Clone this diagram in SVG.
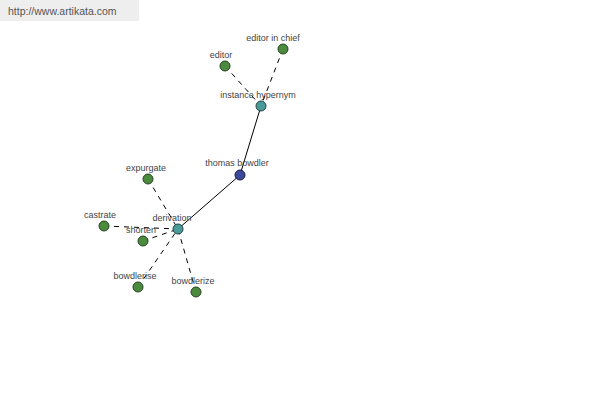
<svg xmlns="http://www.w3.org/2000/svg" width="600" height="400" viewBox="0 0 600 400">
<style>
.lbl{font-family:"Liberation Sans",Arial,sans-serif;font-size:9px;fill:#444;text-anchor:middle}
.g{fill:#4c8a3e;stroke:#224422;stroke-width:1}
.t{fill:#4a9a9a;stroke:#224444;stroke-width:1}
.b{fill:#3c4a9c;stroke:#1a1a44;stroke-width:1}
.solid{stroke:#000;stroke-width:1;fill:none}
.dash{stroke:#000;stroke-width:1;fill:none;stroke-dasharray:5,5}
</style>
<rect x="0" y="0" width="139" height="21" fill="#eeeeee"/>
<text x="8" y="15" font-family="'Liberation Sans',Arial,sans-serif" font-size="10.5" fill="#555">http://www.artikata.com</text>
<g id="connectors">
<line class="solid" x1="240" y1="175" x2="261" y2="106"/>
<line class="solid" x1="240" y1="175" x2="178" y2="229"/>
<line class="dash" x1="283" y1="49" x2="261" y2="106"/>
<line class="dash" x1="225" y1="66" x2="261" y2="106"/>
<line class="dash" x1="148" y1="179" x2="178" y2="229"/>
<line class="dash" x1="104" y1="226" x2="178" y2="229"/>
<line class="dash" x1="143" y1="241" x2="178" y2="229"/>
<line class="dash" x1="138" y1="287" x2="178" y2="229"/>
<line class="dash" x1="196" y1="292" x2="178" y2="229"/>
</g>
<g id="editor-in-chief"><circle class="g" cx="283" cy="49" r="5"/><text class="lbl" x="273" y="41">editor in chief</text></g>
<g id="editor"><circle class="g" cx="225" cy="66" r="5"/><text class="lbl" x="221" y="58">editor</text></g>
<g id="instance-hypernym"><circle class="t" cx="261" cy="106" r="5"/><text class="lbl" x="258" y="98">instance hypernym</text></g>
<g id="thomas-bowdler"><circle class="b" cx="240" cy="175" r="5"/><text class="lbl" x="237" y="166">thomas bowdler</text></g>
<g id="derivation"><circle class="t" cx="178" cy="229" r="5"/><text class="lbl" x="172" y="221">derivation</text></g>
<g id="expurgate"><circle class="g" cx="148" cy="179" r="5"/><text class="lbl" x="146" y="171">expurgate</text></g>
<g id="castrate"><circle class="g" cx="104" cy="226" r="5"/><text class="lbl" x="100" y="218">castrate</text></g>
<g id="shorten"><circle class="g" cx="143" cy="241" r="5"/><text class="lbl" x="141" y="233">shorten</text></g>
<g id="bowdlerise"><circle class="g" cx="138" cy="287" r="5"/><text class="lbl" x="135" y="279">bowdlerise</text></g>
<g id="bowdlerize"><circle class="g" cx="196" cy="292" r="5"/><text class="lbl" x="193" y="284">bowdlerize</text></g>
</svg>
